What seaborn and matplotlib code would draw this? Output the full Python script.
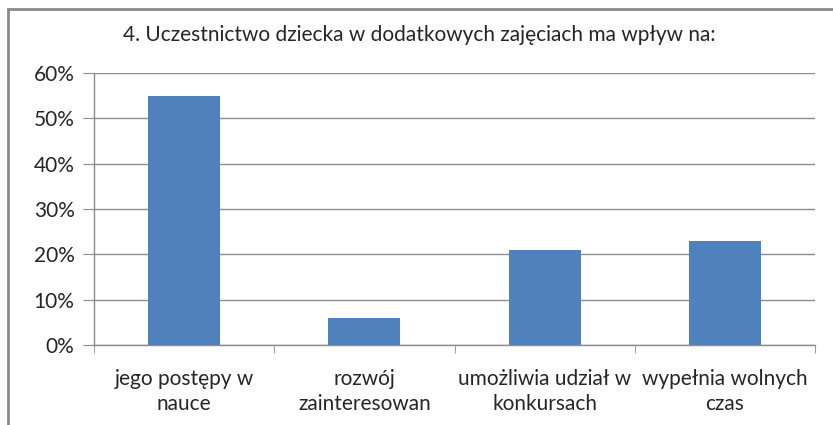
import matplotlib
matplotlib.use("Agg")
import matplotlib.pyplot as plt
import seaborn as sns
import pandas as pd
from matplotlib.patches import Rectangle
from matplotlib.ticker import PercentFormatter, FixedLocator

categories = [
    "jego postępy w\nnauce",
    "rozwój\nzainteresowan",
    "umożliwia udział w\nkonkursach",
    "wypełnia wolnych\nczas",
]
values = [55, 6, 21, 23]
title = "4. Uczestnictwo dziecka w dodatkowych zajęciach ma wpływ na:"

df = pd.DataFrame({"kategoria": categories, "procent": values})

sns.set_style("white")
plt.rcParams["font.family"] = ["Lato", "DejaVu Sans"]

fig = plt.figure(figsize=(8.33, 4.25), dpi=100)
ax = fig.add_axes([94 / 833, 1 - 345 / 425, (815 - 94) / 833, (345 - 73) / 425])

sns.barplot(data=df, x="kategoria", y="procent", color="#4F81BD",
            width=0.4, saturation=1, linewidth=0, ax=ax)

ax.set_ylim(0, 60)
ax.set_xlim(-0.5, len(categories) - 0.5)
ax.set_yticks(range(0, 61, 10))
ax.yaxis.set_major_formatter(PercentFormatter(decimals=0))
ax.grid(axis="y", color="#8c8c8c", linewidth=1)
ax.set_axisbelow(True)
ax.set_xlabel("")
ax.set_ylabel("")

for side in ["top", "right"]:
    ax.spines[side].set_visible(False)
for side in ["left", "bottom"]:
    ax.spines[side].set_color("#8c8c8c")
    ax.spines[side].set_linewidth(1)

ax.tick_params(axis="y", which="major", length=8, color="#8c8c8c",
               labelsize=15, pad=6, left=True)
ax.tick_params(axis="x", which="major", length=0, labelsize=15, pad=17)
for lbl in ax.get_xticklabels():
    lbl.set_linespacing(1.35)
ax.xaxis.set_minor_locator(FixedLocator([i - 0.5 for i in range(len(categories) + 1)]))
ax.tick_params(axis="x", which="minor", length=6, color="#8c8c8c", bottom=True)

fig.text(419 / 833, 1 - 35 / 425, title, ha="center", va="center", fontsize=15)

fig.patches.append(Rectangle((8 / 833, -0.1), 1.2, 1 - 9 / 425 + 0.1,
                             transform=fig.transFigure, fill=False,
                             edgecolor="#8a8a8a", linewidth=2))

fig.savefig("out.png", dpi=100)
